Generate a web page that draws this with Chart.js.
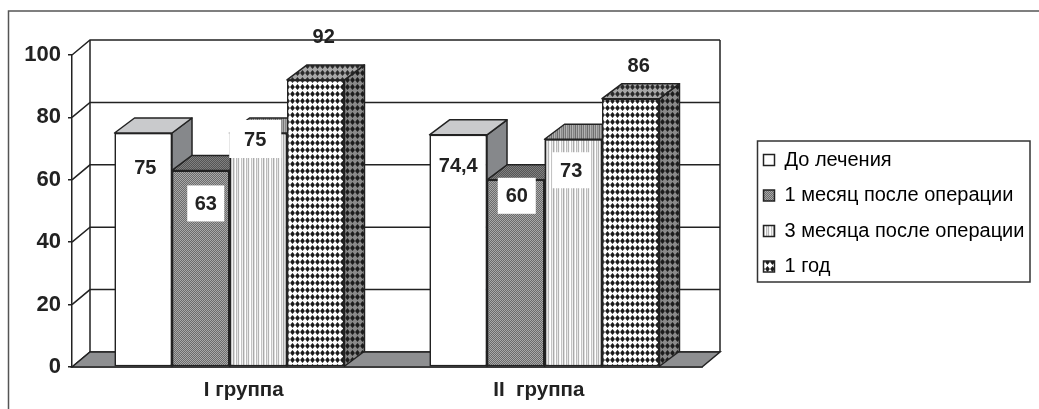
<!DOCTYPE html>
<html>
<head>
<meta charset="utf-8">
<style>
  html, body { margin: 0; padding: 0; background: #fff; }
  canvas { display: block; }
</style>
<script src="https://cdn.jsdelivr.net/npm/chart.js@4"></script>
</head>
<body>
<canvas id="chart" width="1039" height="409"></canvas>
<script>
// Data
const categories = ['I группа', 'II  группа'];
const seriesNames = ['До лечения', '1 месяц после операции', '3 месяца после операции', '1 год'];
const beforeTreatment = [75, 74.4];
const oneMonth = [63, 60];
const threeMonths = [75, 73];
const oneYear = [92, 86];
const yTicks = [0, 20, 40, 60, 80, 100];

// Where the value labels sit relative to their bar: [dx, dy from the bar top, box w, box h]
const labelPlacement = [
  [[2, 34, 0, 0], [0, 31, 0, 0]],
  [[5, 33, 37, 36], [1, 16, 38, 36]],
  [[-3, 6, 52, 38], [-2, 31, 38, 36]],
  [[8, -43, 0, 0], [8, -33, 0, 0]]
];
// The x labels are not centred under the groups in the original
const xLabelPad = [['     ', ''], ['', '  ']];

const INK = '#222';
const DEPTH_X = 20, DEPTH_Y = -15;
const WALL_X = 18, WALL_Y = -15;

// Fill patterns
function makePattern(w, h, paint) {
  const c = document.createElement('canvas');
  c.width = w; c.height = h;
  paint(c.getContext('2d'));
  return c.getContext('2d').createPattern(c, 'repeat');
}
function dither(a, b) {
  return makePattern(2, 2, g => {
    g.fillStyle = a; g.fillRect(0, 0, 2, 2);
    g.fillStyle = b; g.fillRect(0, 0, 1, 1); g.fillRect(1, 1, 1, 1);
  });
}
function stripes(colors) {
  return makePattern(colors.length, 2, g => {
    colors.forEach((col, i) => { g.fillStyle = col; g.fillRect(i, 0, 1, 2); });
  });
}
function diamonds(bg, fg) {
  return makePattern(5, 7, g => {
    g.fillStyle = bg; g.fillRect(0, 0, 5, 7);
    g.fillStyle = fg;
    g.beginPath();
    g.moveTo(2.5, 0); g.lineTo(4.9, 3); g.lineTo(2.5, 6); g.lineTo(0.1, 3);
    g.closePath(); g.fill();
  });
}

const fronts = [
  '#fff',
  dither('#6b6b6b', '#a9a9a9'),
  stripes(['#fff', '#c4c4c4', '#eee', '#aaa', '#ddd', '#fff', '#bbb', '#e6e6e6', '#b4b4b4', '#f4f4f4']),
  diamonds('#fff', '#1c1c1c')
];
const sides = [
  '#86888b',
  dither('#555', '#888'),
  stripes(['#999', '#777', '#aaa', '#888']),
  diamonds('#8a8a8a', '#1c1c1c')
];
const tops = [
  '#c9cacc',
  dither('#555', '#808080'),
  stripes(['#aaa', '#777', '#b4b4b4', '#888', '#a0a0a0', '#6e6e6e']),
  diamonds('#a8a8a8', '#2a2a2a')
];

function poly(ctx, pts, fill) {
  ctx.beginPath();
  pts.forEach((p, i) => i ? ctx.lineTo(p[0], p[1]) : ctx.moveTo(p[0], p[1]));
  ctx.closePath();
  ctx.fillStyle = fill;
  ctx.fill();
  ctx.stroke();
}

// Frame, legend box, back walls, floor, bar sides and value labels
const chart3d = {
  id: 'chart3d',
  afterLayout(chart) {
    const lg = chart.legend;
    lg.left = 748; lg.right = 1034; lg.top = 134.5; lg.bottom = 320;
    lg.width = lg.right - lg.left;
    lg.height = lg.bottom - lg.top;
  },
  beforeDraw(chart) {
    const ctx = chart.ctx;
    ctx.save();
    ctx.strokeStyle = '#555';
    ctx.lineWidth = 1.5;
    ctx.beginPath();
    ctx.moveTo(8.5, 409); ctx.lineTo(8.5, 11); ctx.lineTo(1039, 11);
    ctx.stroke();
    ctx.strokeStyle = '#333';
    ctx.strokeRect(757.5, 141, 272.5, 141);
    ctx.restore();
  },
  beforeDatasetsDraw(chart) {
    const ctx = chart.ctx, y = chart.scales.y, area = chart.chartArea;
    const backL = area.left + WALL_X, backR = area.right + WALL_X;
    ctx.save();
    ctx.strokeStyle = INK;
    ctx.lineWidth = 1.5;
    yTicks.forEach(v => {
      const py = y.getPixelForValue(v);
      ctx.beginPath();
      ctx.moveTo(area.left, py);
      ctx.lineTo(backL, py + WALL_Y);
      ctx.lineTo(backR, py + WALL_Y);
      ctx.stroke();
    });
    ctx.beginPath();
    ctx.moveTo(backL, y.getPixelForValue(100) + WALL_Y);
    ctx.lineTo(backL, y.getPixelForValue(0) + WALL_Y);
    ctx.moveTo(backR, y.getPixelForValue(100) + WALL_Y);
    ctx.lineTo(backR, y.getPixelForValue(0) + WALL_Y);
    ctx.stroke();
    const y0 = y.getPixelForValue(0);
    poly(ctx, [[area.left, y0], [backL, y0 + WALL_Y], [backR, y0 + WALL_Y], [area.right, y0]], '#8e8f91');
    ctx.restore();
  },
  afterDatasetsDraw(chart) {
    const ctx = chart.ctx;
    ctx.save();
    ctx.strokeStyle = INK;
    ctx.lineWidth = 1.5;
    ctx.lineJoin = 'round';
    // Chart.js paints the first dataset last; a 3D look needs left to right
    chart.data.datasets.forEach((ds, i) => {
      chart.getDatasetMeta(i).data.forEach(el => {
        const { x, y, base, width } = el.getProps(['x', 'y', 'base', 'width'], true);
        const l = x - width / 2, r = x + width / 2;
        poly(ctx, [[r, y], [r + DEPTH_X, y + DEPTH_Y], [r + DEPTH_X, base + DEPTH_Y], [r, base]], sides[i]);
        poly(ctx, [[l, y], [l + DEPTH_X, y + DEPTH_Y], [r + DEPTH_X, y + DEPTH_Y], [r, y]], tops[i]);
        el.draw(ctx);
      });
    });

    ctx.font = 'bold 20px "Liberation Sans"';
    ctx.textAlign = 'center';
    ctx.textBaseline = 'middle';
    chart.data.datasets.forEach((ds, i) => {
      chart.getDatasetMeta(i).data.forEach((el, j) => {
        const { x, y } = el.getProps(['x', 'y'], true);
        const [dx, dy, bw, bh] = labelPlacement[i][j];
        const cx = x + dx, cy = y + dy;
        if (bw) {
          ctx.fillStyle = '#fff';
          ctx.fillRect(cx - bw / 2, cy - bh / 2, bw, bh);
        }
        ctx.fillStyle = INK;
        ctx.fillText(String(ds.data[j]).replace('.', ','), cx, cy + 1);
      });
    });
    ctx.restore();
  }
};

const allSeries = [beforeTreatment, oneMonth, threeMonths, oneYear];

new Chart(document.getElementById('chart').getContext('2d'), {
  type: 'bar',
  data: {
    labels: categories,
    datasets: seriesNames.map((name, i) => ({
      label: name,
      data: allSeries[i],
      backgroundColor: fronts[i],
      borderColor: INK,
      borderWidth: 1.5,
      borderSkipped: false,
      categoryPercentage: 0.73,
      barPercentage: 1
    }))
  },
  plugins: [chart3d],
  options: {
    responsive: false,
    animation: false,
    layout: { padding: { left: 0, top: 55, right: 337, bottom: 0 } },
    plugins: {
      title: { display: false },
      tooltip: { enabled: false },
      legend: {
        position: 'chartArea',
        align: 'start',
        labels: {
          boxWidth: 11,
          boxHeight: 11,
          padding: 15.5,
          color: INK,
          font: { size: 20, family: '"Liberation Sans"' },
          generateLabels: c => c.data.datasets.map((ds, i) => ({
            text: ds.label,
            fillStyle: fronts[i],
            strokeStyle: INK,
            lineWidth: 1.5,
            datasetIndex: i
          }))
        }
      }
    },
    scales: {
      x: {
        afterFit: s => { s.height = 42; },
        grid: { display: false, drawTicks: false },
        border: { display: true, color: INK, width: 1.5 },
        ticks: {
          color: INK,
          padding: 11,
          font: { size: 20.5, weight: 'bold', family: '"Liberation Sans"' },
          callback: (v, i) => xLabelPad[i][0] + categories[i] + xLabelPad[i][1]
        }
      },
      y: {
        min: 0,
        max: 100,
        afterFit: s => { s.width = 72; },
        afterBuildTicks: s => { s.ticks = yTicks.map(v => ({ value: v })); },
        grid: { drawOnChartArea: false, drawTicks: true, tickLength: 4, color: INK, lineWidth: 1.5 },
        border: { display: true, color: INK, width: 1.5 },
        ticks: {
          color: INK,
          padding: 7,
          font: { size: 22, weight: 'bold', family: '"Liberation Sans"' }
        }
      }
    }
  }
});
</script>
</body>
</html>
